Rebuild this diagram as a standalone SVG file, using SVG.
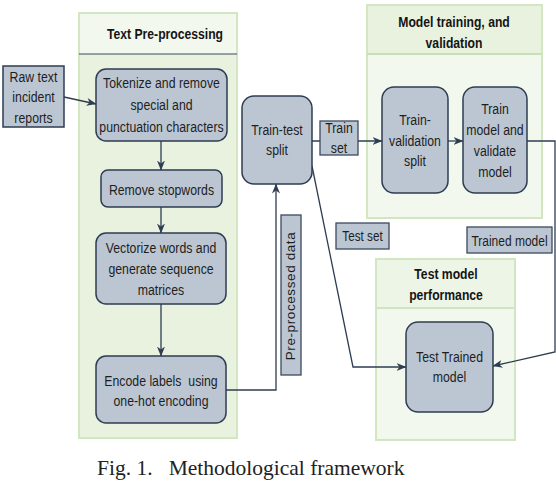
<svg xmlns="http://www.w3.org/2000/svg" width="556" height="484" viewBox="0 0 556 484">
<defs>
<style>
.cont{stroke:#d3e6c2;stroke-width:2}
.node{fill:#bcc6d3;stroke:#2e3d52;stroke-width:1.5}
.lbl{fill:#bcc6d3;stroke:#3b4a5e;stroke-width:1.3}
.t{font-family:"Liberation Sans",Arial,sans-serif;font-size:15px;fill:#1e1e1e;text-anchor:middle}
.h{font-family:"Liberation Sans",Arial,sans-serif;font-size:14.5px;font-weight:bold;fill:#141414;text-anchor:middle}
.edge{fill:none;stroke:#2e3d52;stroke-width:1.3}
.cap{font-family:"Liberation Serif","Times New Roman",serif;font-size:21.5px;fill:#222}
</style>
<marker id="arr" viewBox="0 0 10 8" refX="9.5" refY="4" markerWidth="10" markerHeight="8" markerUnits="userSpaceOnUse" orient="auto">
<path d="M0,0 L10,4 L0,8 L3,4 z" fill="#2e3d52"/>
</marker>
</defs>
<rect width="556" height="484" fill="#fff"/>

<g id="container-preprocessing">
<rect class="cont" x="79" y="13" width="158" height="425" fill="#e8f2de"/>
<rect x="80" y="14" width="156" height="40" fill="#f3f8ee"/>
<line x1="79" y1="54" x2="237" y2="54" stroke="#3c4a5c" stroke-width="1"/>
<text class="h" transform="translate(165,39) scale(.84,1)">Text Pre-processing</text>
</g>
<g id="container-training">
<rect class="cont" x="367" y="5" width="175" height="213" fill="#f2f8ee"/>
<rect x="368" y="6" width="173" height="48" fill="#e9f2df"/>
<line x1="367" y1="54" x2="542" y2="54" stroke="#c8e0b5" stroke-width="2"/>
<text class="h" transform="translate(454,27) scale(.84,1)"><tspan x="0" y="0">Model training, and</tspan><tspan x="0" y="21">validation</tspan></text>
</g>
<g id="container-test">
<rect class="cont" x="376" y="259" width="139" height="181" fill="#f2f8ee"/>
<rect x="377" y="260" width="137" height="48" fill="#edf5e6"/>
<line x1="376" y1="308" x2="515" y2="308" stroke="#d0e5bf" stroke-width="2"/>
<text class="h" transform="translate(446,279) scale(.84,1)"><tspan x="0" y="0">Test model</tspan><tspan x="0" y="21">performance</tspan></text>
</g>

<g id="connectors">
<path class="edge" d="M64,97 L96,104" marker-end="url(#arr)"/>
<path class="edge" d="M161,141 L161,170" marker-end="url(#arr)"/>
<path class="edge" d="M161,207 L161,233" marker-end="url(#arr)"/>
<path class="edge" d="M161,304 L161,356" marker-end="url(#arr)"/>
<path class="edge" d="M226,390 L276,390 L276,184" marker-end="url(#arr)"/>
<path class="edge" d="M312,141 L382,141" marker-end="url(#arr)"/>
<path class="edge" d="M448,141 L463,141" marker-end="url(#arr)"/>
<path class="edge" d="M527,141 L555,141 L555,352 L493,366" marker-end="url(#arr)"/>
<path class="edge" d="M312,166 L353,367 L406,367" marker-end="url(#arr)"/>
</g>

<g id="raw-text">
<rect class="node" x="3" y="66" width="61" height="61"/>
<text class="t" transform="translate(33.5,82) scale(.82,1)"><tspan x="0" y="0">Raw text</tspan><tspan x="0" y="20.5">incident</tspan><tspan x="0" y="41">reports</tspan></text>
</g>
<g id="tokenize">
<rect class="node" x="96" y="69" width="131" height="72" rx="10"/>
<text class="t" transform="translate(161.5,88) scale(.82,1)"><tspan x="0" y="0">Tokenize and remove</tspan><tspan x="0" y="22">special and</tspan><tspan x="0" y="44">punctuation characters</tspan></text>
</g>
<g id="stopwords">
<rect class="node" x="101" y="170" width="121" height="37" rx="7"/>
<text class="t" transform="translate(161.5,195) scale(.82,1)">Remove stopwords</text>
</g>
<g id="vectorize">
<rect class="node" x="96" y="233" width="130" height="71" rx="10"/>
<text class="t" transform="translate(161,253) scale(.82,1)"><tspan x="0" y="0">Vectorize words and</tspan><tspan x="0" y="21">generate sequence</tspan><tspan x="0" y="42">matrices</tspan></text>
</g>
<g id="encode">
<rect class="node" x="96" y="356" width="130" height="67" rx="10"/>
<text class="t" transform="translate(161,386) scale(.82,1)" style="white-space:pre"><tspan x="0" y="0">Encode labels  using</tspan><tspan x="0" y="20">one-hot encoding</tspan></text>
</g>
<g id="train-test-split">
<rect class="node" x="242" y="96" width="70" height="88" rx="12"/>
<text class="t" transform="translate(277,135) scale(.82,1)"><tspan x="0" y="0">Train-test</tspan><tspan x="0" y="20">split</tspan></text>
</g>
<g id="train-validation-split">
<rect class="node" x="382" y="87" width="66" height="106" rx="12"/>
<text class="t" transform="translate(415,125) scale(.82,1)"><tspan x="0" y="0">Train-</tspan><tspan x="0" y="21">validation</tspan><tspan x="0" y="41">split</tspan></text>
</g>
<g id="train-model">
<rect class="node" x="463" y="87" width="64" height="106" rx="12"/>
<text class="t" transform="translate(495,114) scale(.82,1)"><tspan x="0" y="0">Train</tspan><tspan x="0" y="21">model and</tspan><tspan x="0" y="42">validate</tspan><tspan x="0" y="63">model</tspan></text>
</g>
<g id="test-trained-model">
<rect class="node" x="406" y="322" width="87" height="90" rx="12"/>
<text class="t" transform="translate(449.5,362) scale(.82,1)"><tspan x="0" y="0">Test Trained</tspan><tspan x="0" y="20">model</tspan></text>
</g>

<g id="label-train-set">
<rect class="lbl" x="320" y="121" width="38" height="34"/>
<text class="t" transform="translate(339,133) scale(.82,1)"><tspan x="0" y="0">Train</tspan><tspan x="0" y="20">set</tspan></text>
</g>
<g id="label-test-set">
<rect class="lbl" x="336" y="223" width="53" height="26"/>
<text class="t" transform="translate(362.5,241) scale(.78,1)">Test set</text>
</g>
<g id="label-trained-model">
<rect class="lbl" x="467" y="227" width="85" height="26"/>
<text class="t" transform="translate(509.5,246) scale(.8,1)">Trained model</text>
</g>
<g id="label-preprocessed">
<rect class="lbl" x="281" y="215" width="20" height="160"/>
<text class="t" transform="translate(295,296) rotate(-90)" style="font-size:13.5px;letter-spacing:0.6px">Pre-processed data</text>
</g>

<text class="cap" x="97" y="475" style="white-space:pre">Fig. 1.   Methodological framework</text>
</svg>
